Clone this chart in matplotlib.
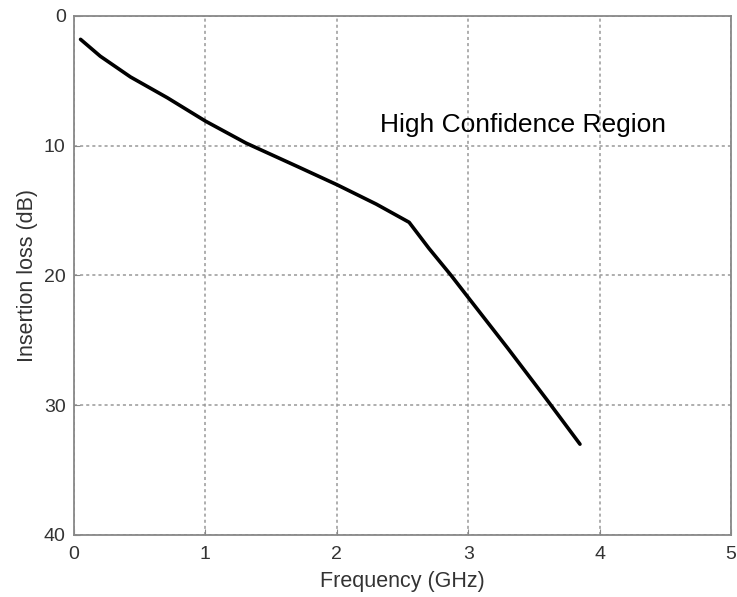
import matplotlib.pyplot as plt

plt.rcParams['font.family'] = ['Liberation Sans', 'DejaVu Sans']

# curve
freq = [0.05, 0.2, 0.43, 0.71, 1.0, 1.31, 1.7, 2.0, 2.3, 2.55, 2.7, 2.87, 3.0, 3.3, 3.6, 3.85]
loss = [1.8, 3.1, 4.7, 6.3, 8.1, 9.8, 11.6, 13.0, 14.5, 15.9, 17.9, 20.0, 21.7, 25.6, 29.6, 33.0]

xticks = [0, 1, 2, 3, 4, 5]
yticks = [0, 10, 20, 30, 40]

fig = plt.figure(figsize=(7.37, 5.97), dpi=100)
ax = fig.add_axes([0.1004, 0.1039, 0.8916, 0.8693])

ax.plot(freq, loss, color='black', linewidth=2.6, solid_capstyle='round',
        solid_joinstyle='round')

ax.set_xlim(0, 5)
ax.set_ylim(40, 0)
ax.set_xticks(xticks)
ax.set_yticks(yticks)
ax.grid(True, color='#999999', linestyle=(0, (2, 2)), linewidth=1.1)

for s in ax.spines.values():
    s.set_color('#888888')
    s.set_linewidth(1.3)
ax.tick_params(direction='in', length=4, color='#888888', labelsize=14,
               labelcolor='#333333')
ax.tick_params(axis='x', pad=8)
ax.tick_params(axis='y', pad=6)

ax.set_xlabel('Frequency (GHz)', fontsize=15.5, color='#333333', labelpad=6)
ax.set_ylabel('Insertion loss (dB)', fontsize=15.5, color='#333333', labelpad=4)

ax.text(2.33, 8.4, 'High Confidence Region', fontsize=19, color='black',
        va='center', ha='left')

fig.savefig('out.png', dpi=100)
